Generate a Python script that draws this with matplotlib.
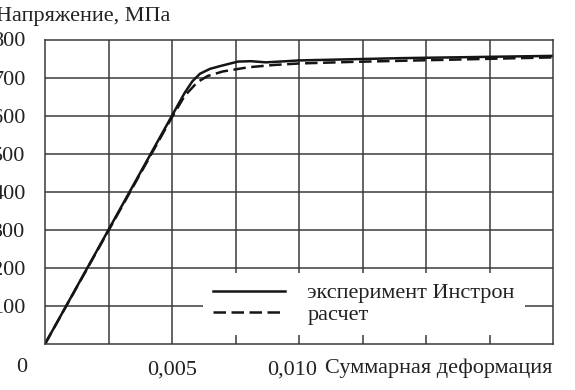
import matplotlib.pyplot as plt
import matplotlib.transforms as mtransforms

# experiment (Instron)
strain_exp = [0, 0.0025, 0.005, 0.0055, 0.0058, 0.0061, 0.0065, 0.0070, 0.0076,
              0.0081, 0.0087, 0.0095, 0.010, 0.012, 0.014, 0.016, 0.018, 0.020]
stress_exp = [0, 300, 600, 660, 690, 710, 723, 732, 742,
              743, 740, 743, 745, 748, 751, 753, 755, 757]

# calculation
strain_calc = [0, 0.0025, 0.005, 0.0055, 0.0060, 0.0064, 0.0070, 0.0080,
               0.0090, 0.010, 0.012, 0.014, 0.016, 0.018, 0.020]
stress_calc = [0, 298, 596, 652, 688, 704, 716, 727,
               733, 737, 741, 744, 747, 750, 753]

y_ticks = [100, 200, 300, 400, 500, 600, 700, 800]
x_ticks = [0.005, 0.010]
x_labels = ['0,005', '0,010']

plt.rcParams['font.family'] = ['Liberation Serif', 'DejaVu Serif']
grid_color = '#3a3a3a'
text_color = '#222222'
fs = 16

fig = plt.figure(figsize=(5.75, 3.9), dpi=100)
ax = fig.add_axes([45 / 575, 1 - 344 / 390, 508 / 575, 304.5 / 390])

ax.plot(strain_exp, stress_exp, color='#151515', lw=1.8, label='эксперимент Инстрон')
ax.plot(strain_calc, stress_calc, color='#151515', lw=1.8, dashes=(5, 2.2), label='расчет')

ax.set_xlim(0, 0.02)
ax.set_ylim(0, 800)
for s in ax.spines.values():
    s.set_color(grid_color)
    s.set_linewidth(1.1)

# grid every 0.0025 / 100
for xv in [0.0025, 0.005, 0.0075, 0.010, 0.0125, 0.015, 0.0175]:
    ax.axvline(xv, color=grid_color, lw=1.1, zorder=0)
for yv in range(100, 800, 100):
    ax.axhline(yv, color=grid_color, lw=1.1, zorder=0)

ax.set_yticks(y_ticks)
ax.set_yticklabels([str(v) for v in y_ticks])
ax.set_xticks(x_ticks)
ax.set_xticklabels(x_labels)
ax.tick_params(length=0, labelsize=fs, colors=text_color)
ax.tick_params(axis='y', pad=14)
ax.tick_params(axis='x', pad=12)

# the 0,010 label sits a bit left of its gridline in the original
lbl = ax.get_xticklabels()[1]
lbl.set_transform(lbl.get_transform() +
                  mtransforms.ScaledTranslation(-7 / 100, 0, fig.dpi_scale_trans))

fig.text(22 / 575, 1 - 368 / 390, '0', fontsize=fs, color=text_color, ha='center', va='center')
fig.text(325 / 575, 1 - 368 / 390, 'Суммарная деформация', fontsize=fs, color=text_color,
         ha='left', va='center')
fig.text(-4 / 575, 1 - 16 / 390, 'Напряжение, МПа', fontsize=fs, color=text_color,
         ha='left', va='center')

leg = ax.legend(loc='lower left', bbox_to_anchor=((203 - 45) / 508, (344 - 335) / 304.5),
                fontsize=fs, frameon=True, fancybox=False, edgecolor='none',
                facecolor='white', framealpha=1, handlelength=3.25, handletextpad=1.0,
                borderpad=0.45, labelspacing=0.05, borderaxespad=0)
leg.get_frame().set_linewidth(0)
for t in leg.get_texts():
    t.set_color(text_color)

fig.savefig('out.png', dpi=100)
